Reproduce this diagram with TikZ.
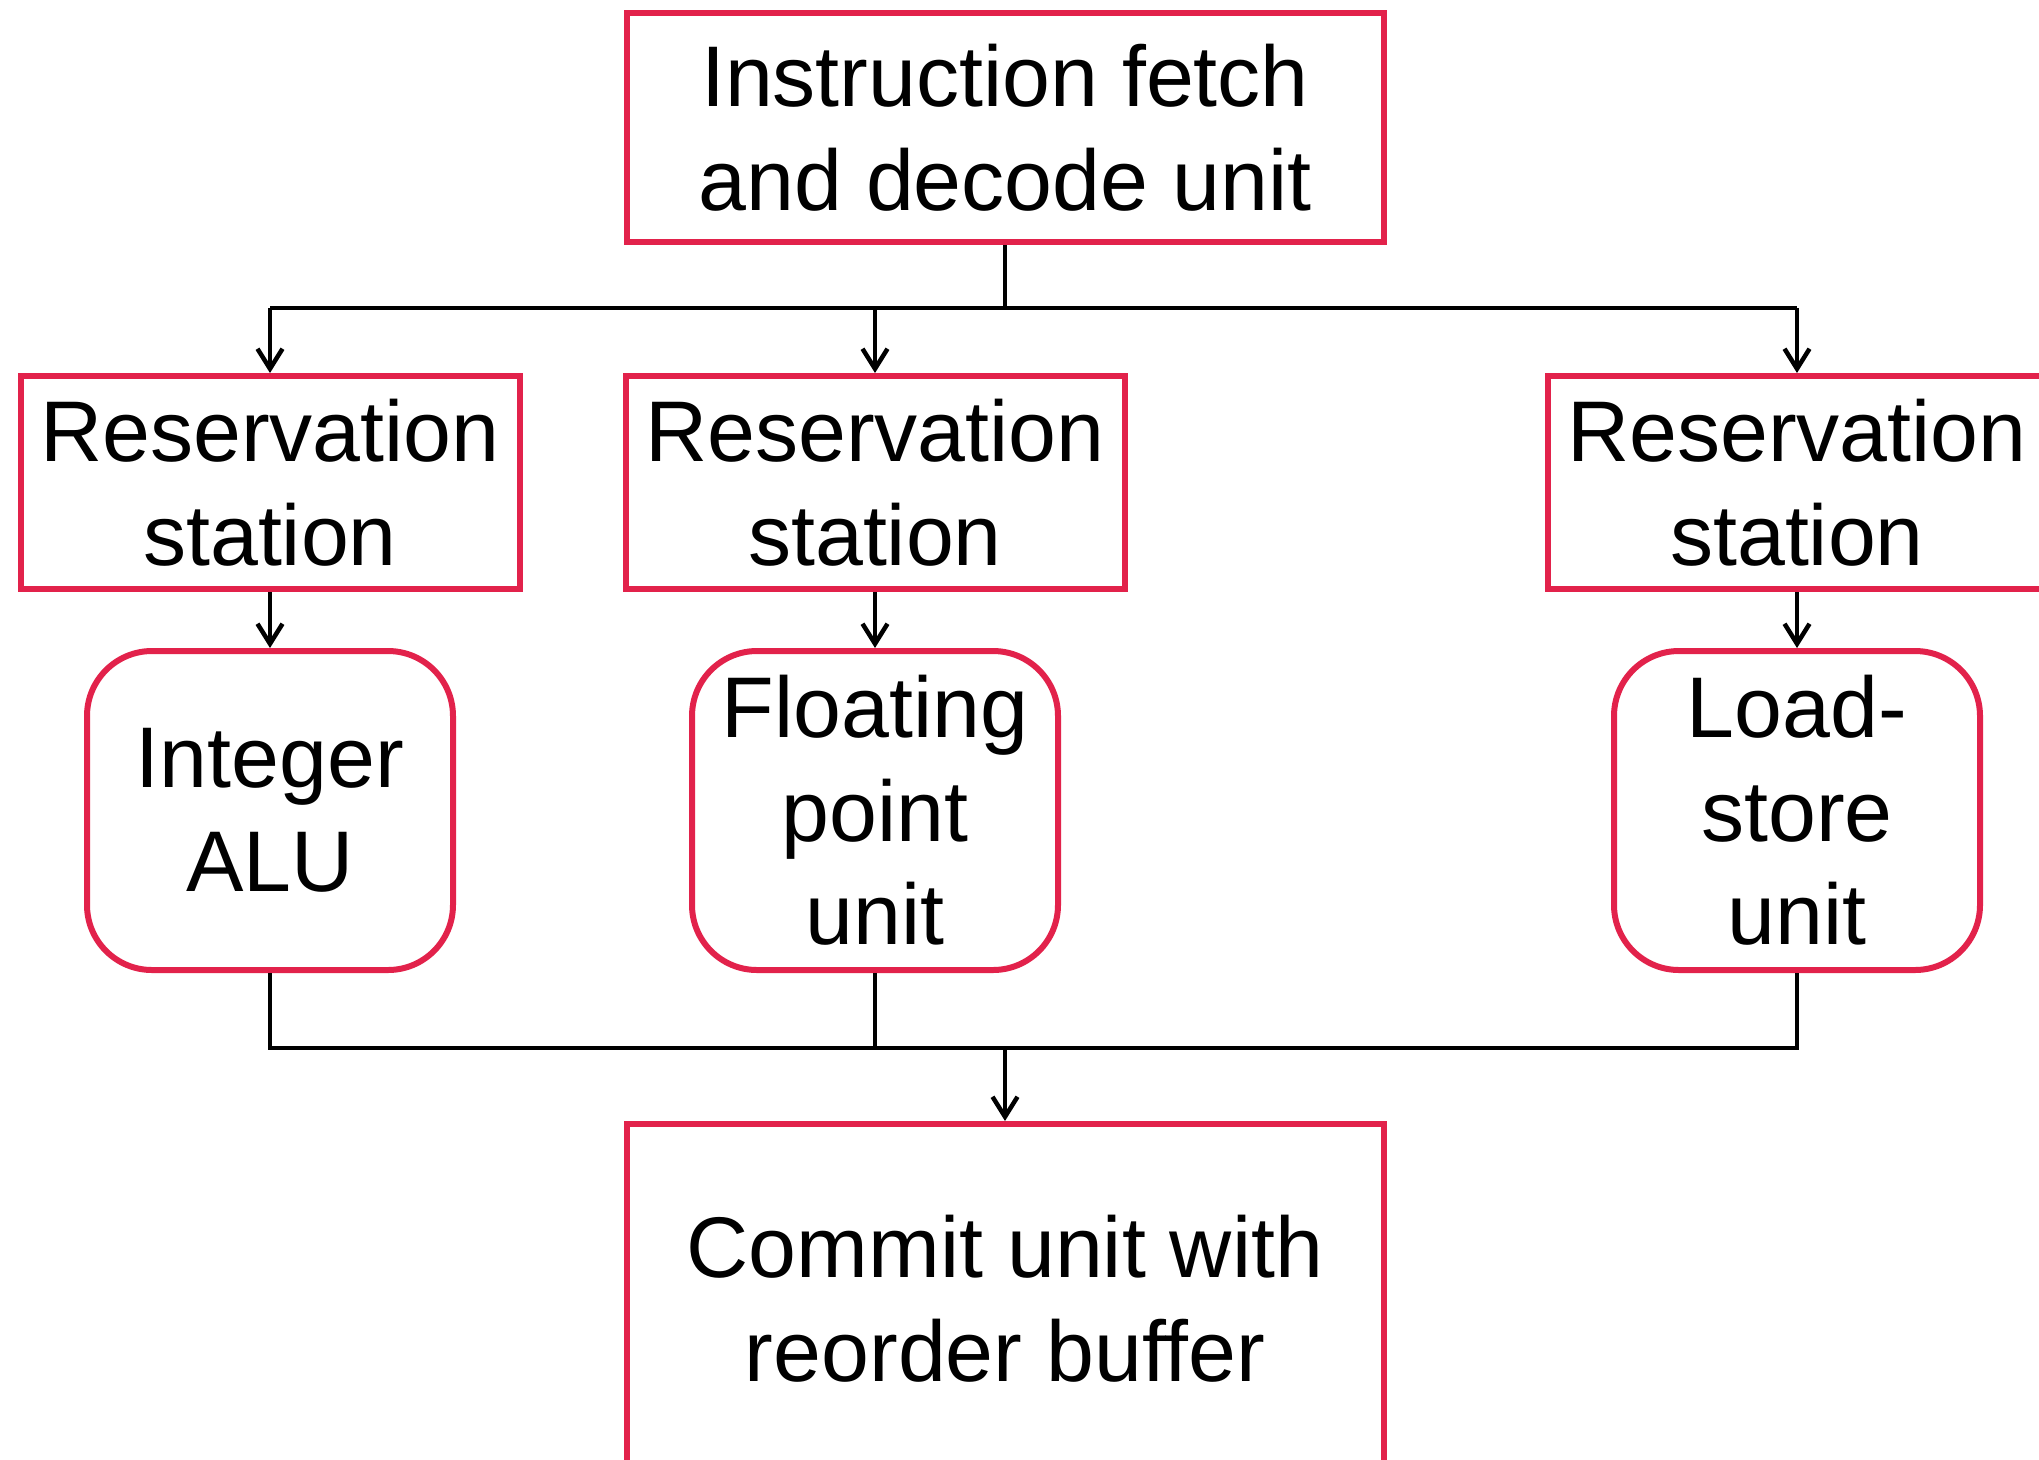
\documentclass[tikz,border=0pt]{standalone}
\usepackage{fontspec}
\setmainfont{Liberation Sans}
\usetikzlibrary{arrows.meta}
\definecolor{boxred}{RGB}{226,34,75}
\begin{document}
\begin{tikzpicture}[
    x=0.1mm, y=-0.1mm,
    unitbox/.style={rectangle, draw=boxred, line width=0.6mm, align=center, inner sep=0pt,
        font=\fontsize{24.5}{29.5}\selectfont},
    fu/.style={unitbox, rounded corners=6.5mm, minimum width=36.6mm, minimum height=31.9mm},
    rs/.style={unitbox, minimum width=49.9mm, minimum height=21.3mm},
    arrow/.style={-{Straight Barb[length=2mm,width=2.5mm]}, line width=0.45mm},
    bus/.style={line width=0.45mm}
]
    \useasboundingbox (0,0) rectangle (2039,1459);

    \node[unitbox, minimum width=75.7mm, minimum height=22.9mm] (ifu) at (1005,127.5) {Instruction fetch\\and decode unit};

    \node[rs] (rs1) at (270,482.5) {Reservation\\station};
    \node[rs] (rs2) at (875,482.5) {Reservation\\station};
    \node[rs] (rs3) at (1797,482.5) {Reservation\\station};

    \node[fu] (alu) at (270,810.5) {Integer\\ALU};
    \node[fu] (fpu) at (875,810.5) {Floating\\point\\unit};
    \node[fu] (lsu) at (1797,810.5) {Load-\\store\\unit};

    \node[unitbox, minimum width=75.7mm, minimum height=35mm] (cu) at (1005,1299) {Commit unit with\\reorder buffer};

    % issue bus
    \coordinate (top) at (1005,308);
    \draw[bus] (ifu.south) -- (top);
    \draw[bus] (rs1.north |- top) -- (rs3.north |- top);
    \draw[arrow] (rs1.north |- top) -- (rs1.north);
    \draw[arrow] (rs2.north |- top) -- (rs2.north);
    \draw[arrow] (rs3.north |- top) -- (rs3.north);

    \draw[arrow] (rs1) -- (alu);
    \draw[arrow] (rs2) -- (fpu);
    \draw[arrow] (rs3) -- (lsu);

    % result bus
    \coordinate (bot) at (1005,1048);
    \draw[bus] (alu.south) -- (alu.south |- bot) -- (lsu.south |- bot) -- (lsu.south);
    \draw[bus] (fpu.south) -- (fpu.south |- bot);
    \draw[arrow] (bot) -- (cu.north);
\end{tikzpicture}
\end{document}
